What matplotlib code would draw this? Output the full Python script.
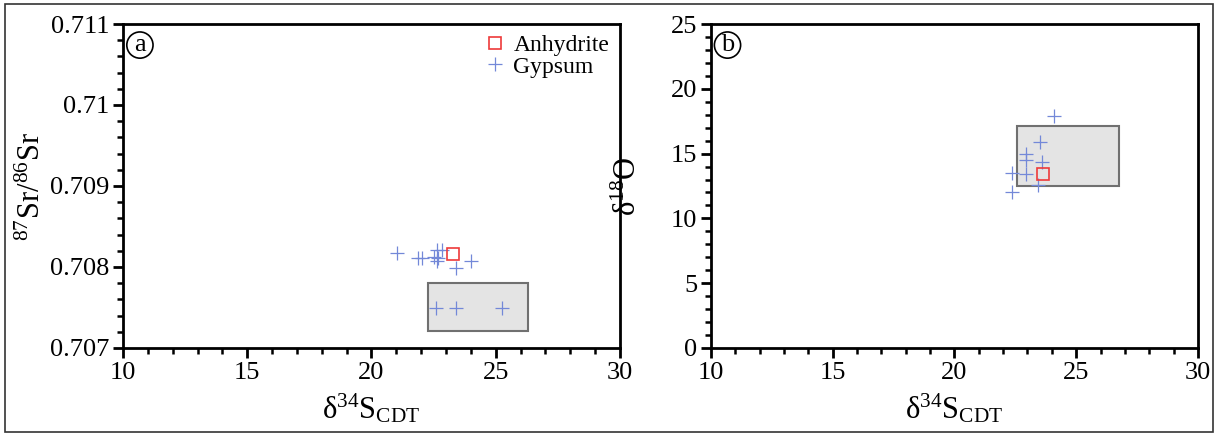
import numpy as np
import matplotlib.pyplot as plt
from matplotlib.patches import Rectangle
from matplotlib.ticker import MultipleLocator

plt.rcParams['font.family'] = ['Liberation Serif', 'DejaVu Serif']
plt.rcParams['mathtext.fontset'] = 'custom'
plt.rcParams['mathtext.rm'] = 'Liberation Serif'
plt.rcParams['mathtext.it'] = 'Liberation Serif:italic'

# (a) 87Sr/86Sr vs d34S
gyp_a_s = [21.04, 21.88, 22.02, 22.62, 22.83, 22.53, 22.69, 22.62, 23.41, 24.0,
           22.6, 23.41, 25.25]
gyp_a_sr = [0.70817, 0.708115, 0.708115, 0.70821, 0.70821, 0.708127, 0.708107,
            0.708074, 0.70799, 0.70808, 0.707498, 0.707498, 0.707498]
anh_a_s = [23.27]
anh_a_sr = [0.70816]
box_a = (22.27, 26.3, 0.70721, 0.70780)  # x0, x1, y0, y1

# (b) d18O vs d34S
gyp_b_s = [24.11, 23.52, 22.92, 22.92, 23.61, 22.35, 22.92, 23.43, 22.35]
gyp_b_o = [17.9, 15.87, 14.95, 14.51, 14.33, 13.53, 13.43, 12.58, 12.04]
anh_b_s = [23.62]
anh_b_o = [13.4]
box_b = (22.58, 26.76, 12.52, 17.15)

blue = '#7388d8'
red = '#ee3a3a'

fig = plt.figure(figsize=(12.18, 4.38), dpi=100)
fig.patches.append(Rectangle((0.004, 0.014), 0.992, 0.976, transform=fig.transFigure,
                             fill=False, edgecolor='#333333', linewidth=1.2))

ax1 = fig.add_axes([0.101, 0.2055, 0.408, 0.7397])
ax2 = fig.add_axes([0.5837, 0.2055, 0.3998, 0.7397])

def draw_box(ax, b):
    ax.add_patch(Rectangle((b[0], b[2]), b[1] - b[0], b[3] - b[2], facecolor='#e4e4e4',
                           edgecolor='#707070', linewidth=1.5, zorder=1))

draw_box(ax1, box_a)
ax1.plot(gyp_a_s, gyp_a_sr, '+', color=blue, ms=10.5, mew=0.9, label='Gypsum', zorder=3)
ax1.plot(anh_a_s, anh_a_sr, 's', mfc='none', mec=red, ms=8, mew=1.2, label='Anhydrite', zorder=4)
ax1.set_xlim(10, 30)
ax1.set_ylim(0.707, 0.711)
ax1.xaxis.set_major_locator(MultipleLocator(5))
ax1.xaxis.set_minor_locator(MultipleLocator(1))
ax1.yaxis.set_minor_locator(MultipleLocator(0.0002))
ax1.set_yticks([0.707, 0.708, 0.709, 0.71, 0.711])
ax1.set_yticklabels(['0.707', '0.708', '0.709', '0.71', '0.711'])
ax1.set_ylabel(r'$^{87}$Sr/$^{86}$Sr', fontsize=22, labelpad=2)
h, l = ax1.get_legend_handles_labels()
ax1.legend(h[::-1], l[::-1], loc='upper right', frameon=False, fontsize=17,
           handletextpad=0.2, borderaxespad=0.05, labelspacing=0.0, handlelength=1.2)

draw_box(ax2, box_b)
ax2.plot(gyp_b_s, gyp_b_o, '+', color=blue, ms=10.5, mew=0.9, zorder=3)
ax2.plot(anh_b_s, anh_b_o, 's', mfc='none', mec=red, ms=8, mew=1.2, zorder=4)
ax2.set_xlim(10, 30)
ax2.set_ylim(0, 25)
ax2.xaxis.set_major_locator(MultipleLocator(5))
ax2.xaxis.set_minor_locator(MultipleLocator(1))
ax2.yaxis.set_major_locator(MultipleLocator(5))
ax2.yaxis.set_minor_locator(MultipleLocator(1))
ax2.set_ylabel(r'δ$^{18}$O', fontsize=22, labelpad=20)

for ax, tag in [(ax1, 'a'), (ax2, 'b')]:
    ax.set_xlabel(r'δ$^{34}$S$_{\mathrm{CDT}}$', fontsize=22, labelpad=6)
    for sp in ax.spines.values():
        sp.set_linewidth(2)
    ax.tick_params(which='major', direction='out', length=7, width=2, labelsize=19, pad=3)
    ax.tick_params(which='minor', direction='out', length=4, width=1.8)
    ax.text(0.034, 0.935, tag, transform=ax.transAxes, fontsize=19, ha='center', va='center',
            bbox=dict(boxstyle='circle,pad=0.08', fc='none', ec='black', lw=1.2))

fig.savefig('out.png', dpi=100)
